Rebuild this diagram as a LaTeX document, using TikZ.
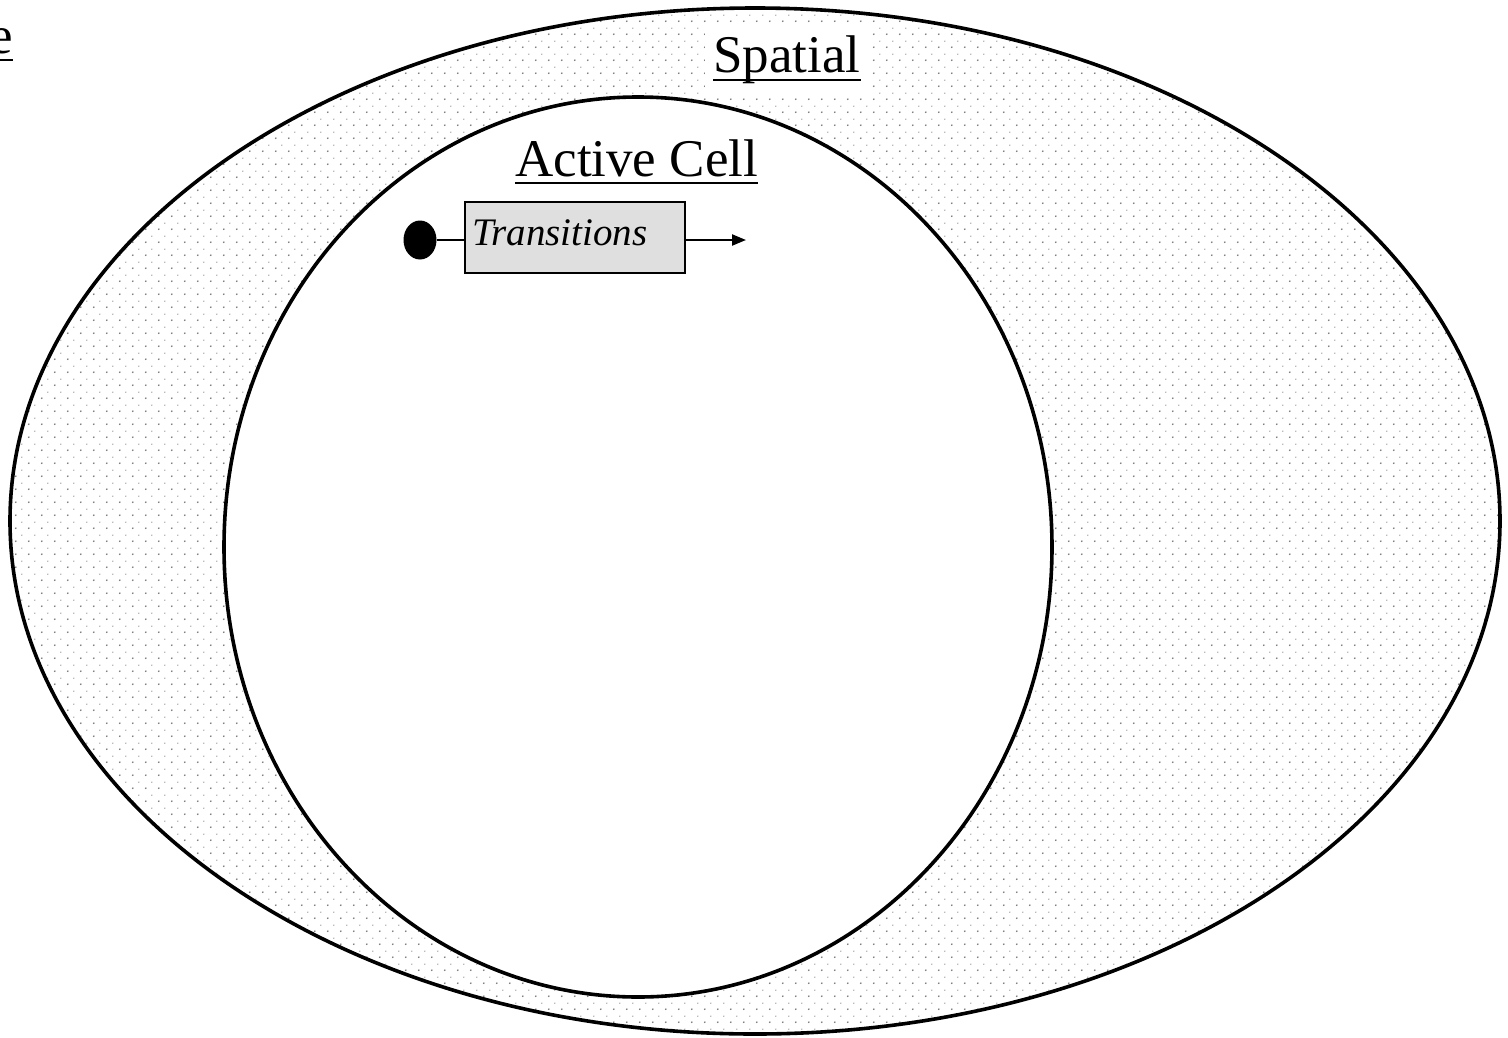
\documentclass[tikz,border=0pt]{standalone}
\usepackage{fontspec}
\setmainfont{Liberation Serif}
\usetikzlibrary{shapes.geometric,arrows.meta,patterns,calc}

% sparse staggered dot texture for the spatial region
\pgfdeclarepatternformonly{sparsedots}{\pgfpointorigin}{\pgfpoint{13pt}{13pt}}{\pgfpoint{13pt}{13pt}}{%
  \pgfpathcircle{\pgfpoint{3pt}{3pt}}{1pt}%
  \pgfpathcircle{\pgfpoint{9.5pt}{9.5pt}}{0.65pt}%
  \pgfusepath{fill}%
}

\begin{document}
\begin{tikzpicture}[x=1pt,y=-1pt,
  region/.style={line width=3.6pt},
  title/.style={font=\fontsize{53}{60}\selectfont, inner sep=0pt},
  uline/.style={line width=2.4pt},
  statebox/.style={draw, line width=2pt, fill=gray!25, minimum height=71pt,
    text width=206pt, inner xsep=7pt, align=left, text depth=9pt,
    font=\itshape\fontsize{39}{44}\selectfont},
  startdot/.style={ellipse, fill=black, inner sep=0pt, minimum width=33pt, minimum height=39pt},
  link/.style={line width=2.2pt}
]
\useasboundingbox (0,0) rectangle (1508,1037);

% outer spatial region
\draw[region, pattern=sparsedots, pattern color=black!55] (755,521) ellipse [x radius=745, y radius=513];

% label of the spatial region, on a white patch
\node[title, fill=white, inner xsep=8pt, inner ysep=12pt, anchor=base west] (spatial) at (705,72) {Spatial};
\draw[uline] ($(spatial.base west)+(8,8)$) -- ($(spatial.base east)+(-8,8)$);

% inner active cell
\draw[region, fill=white] (638,547) ellipse [x radius=414, y radius=450];

\node[title, anchor=base west] (cell) at (515,176) {Active Cell};
\draw[uline] ($(cell.base west)+(0,7)$) -- ($(cell.base east)+(0,7)$);

% partial label at the left edge
\node[title, anchor=base east] (edge) at (13,53) {e};
\draw[uline] ($(edge.base west)+(0,7)$) -- ($(edge.base east)+(0,7)$);

% transitions state with initial dot and outgoing arrow
\node[statebox] (trans) at (575,237.5) {Transitions};
\node[startdot] (init) at (420,240) {};
\coordinate (out) at (746,240);
\draw[link] (init) -- (init -| trans.west);
\draw[link, -{Triangle[length=14pt,width=11pt]}] (trans.east |- out) -- (out);
\end{tikzpicture}
\end{document}
